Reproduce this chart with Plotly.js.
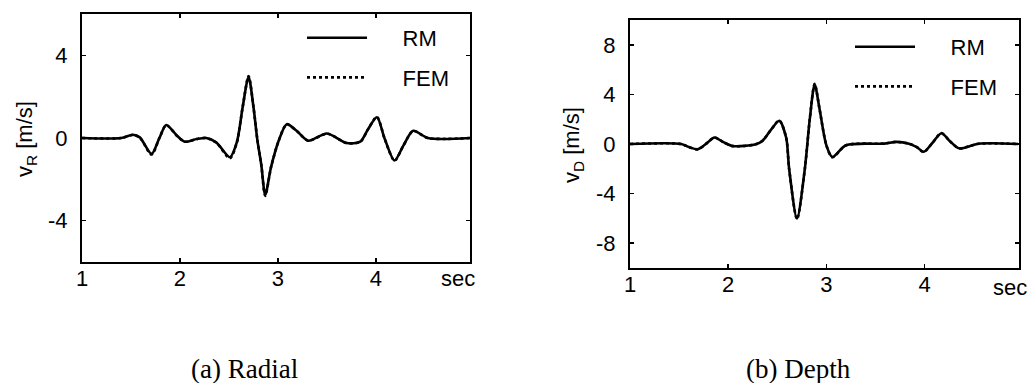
<!DOCTYPE html>
<html>
<head>
<meta charset="utf-8">
<script src="https://cdn.plot.ly/plotly-3.0.1.min.js"></script>
<style>
html,body{margin:0;padding:0;background:#fff;}
#chart{width:1034px;height:383px;}
</style>
</head>
<body>
<div id="chart"></div>
<script>
// ---- Data ----
// (a) Radial velocity
var radialTime = [1.0,1.40,1.52,1.59,1.71,1.79,1.86,1.97,2.05,2.17,2.27,2.37,2.51,2.58,2.64,2.70,2.75,2.79,2.83,2.87,2.93,3.01,3.09,3.19,3.31,3.50,3.70,3.84,3.92,4.01,4.09,4.19,4.28,4.38,4.53,4.96];
var radialRM   = [0,0,0.16,0.03,-0.77,0.0,0.63,0.11,-0.18,-0.05,0,-0.21,-0.93,-0.21,1.5,2.95,1.5,-0.1,-1.3,-2.75,-1.4,-0.1,0.67,0.35,-0.13,0.22,-0.24,-0.18,0.43,1.0,-0.05,-1.09,-0.37,0.35,0,0];
var radialFEM  = [0,0,0.15,0.02,-0.80,0.0,0.62,0.10,-0.18,-0.05,0,-0.22,-0.98,-0.22,1.5,3.0,1.5,-0.1,-1.3,-2.8,-1.4,-0.1,0.66,0.35,-0.13,0.21,-0.24,-0.19,0.43,1.02,-0.05,-1.10,-0.37,0.34,0,0];
// (b) Depth velocity
var depthTime = [1.0,1.52,1.60,1.69,1.78,1.86,1.95,2.05,2.28,2.35,2.44,2.52,2.59,2.62,2.70,2.78,2.83,2.88,2.93,3.00,3.06,3.20,3.59,3.71,3.84,3.92,3.99,4.08,4.17,4.26,4.35,4.55,4.95];
var depthRM   = [0,0,-0.25,-0.42,0.05,0.53,0.15,-0.17,-0.02,0.27,1.2,1.87,0.5,-2.0,-6.0,-2.0,2.0,4.8,2.8,-0.13,-1.05,-0.1,0.03,0.17,0.03,-0.25,-0.63,0.1,0.87,0.2,-0.35,0.02,0];
var depthFEM  = [0,0,-0.25,-0.44,0.05,0.52,0.15,-0.17,-0.02,0.27,1.2,1.9,0.5,-2.0,-6.05,-2.0,2.0,4.85,2.8,-0.13,-1.07,-0.1,0.03,0.17,0.03,-0.25,-0.65,0.1,0.88,0.2,-0.35,0.02,0];

var xTicks = [1,2,3,4];
var radialYTicks = [-4,0,4];
var depthYTicks = [-8,-4,0,4,8];
var seriesNames = ['RM','FEM'];
var panelCaptions = ['(a) Radial','(b) Depth'];
var yTitles = ['v<sub>R</sub> [m/s]','v<sub>D</sub> [m/s]'];
var xUnit = 'sec';

// ---- Styling ----
var W = 1034, H = 383;
var SANS = "'Liberation Sans', Arial, Helvetica, sans-serif";
var SERIF = "'Liberation Serif', 'Times New Roman', serif";
function f(size){ return {family:SANS, size:size, color:'#000'}; }
var pad = '\u00a0\u00a0\u00a0\u00a0\u00a0';

function mkLine(x, y, name, dash, xa, ya, leg, grp){
  return {x:x, y:y, name:pad + name, type:'scatter', mode:'lines',
    line:{color:'#000', width:2.6, dash:dash, shape:'spline', smoothing:0.8},
    xaxis:xa, yaxis:ya, legend:leg, legendgroup:grp, showlegend:true, hoverinfo:'skip'};
}

var traces = [
  mkLine(radialTime, radialRM, seriesNames[0], 'solid', 'x', 'y', 'legend', 'a1'),
  mkLine(radialTime, radialFEM, seriesNames[1], 'dot', 'x', 'y', 'legend', 'a2'),
  mkLine(depthTime, depthRM, seriesNames[0], 'solid', 'x2', 'y2', 'legend2', 'b1'),
  mkLine(depthTime, depthFEM, seriesNames[1], 'dot', 'x2', 'y2', 'legend2', 'b2')
];

function xAxis(domain, anchor){
  return {domain:domain, anchor:anchor, range:[1,4.96], tickvals:xTicks, ticktext:xTicks.map(String),
    showgrid:false, zeroline:false, showline:true, linecolor:'#000', linewidth:2, mirror:'ticks',
    ticks:'inside', ticklen:4, tickwidth:1.5, tickcolor:'#000', tickfont:f(22), ticklabelstandoff:-4, automargin:false, fixedrange:true};
}
function yAxis(domain, anchor, range, tv){
  return {domain:domain, anchor:anchor, range:range, tickvals:tv, ticktext:tv.map(String),
    showgrid:false, zeroline:false, showline:true, linecolor:'#000', linewidth:2, mirror:'ticks',
    ticks:'inside', ticklen:4, tickwidth:1.5, tickcolor:'#000', tickfont:f(22), ticklabelstandoff:8, automargin:false, fixedrange:true};
}

var legendBase = {bgcolor:'rgba(0,0,0,0)', borderwidth:0, font:f(22), itemwidth:60,
  traceorder:'grouped', tracegroupgap:8, xanchor:'left', yanchor:'top', itemclick:false, itemdoubleclick:false};

var layout = {
  width:W, height:H, margin:{l:0, r:0, t:0, b:0},
  paper_bgcolor:'#fff', plot_bgcolor:'#fff', font:f(22),
  xaxis: xAxis([82/W, 470/W], 'y'),
  yaxis: yAxis([(H-262)/H, (H-14)/H], 'x', [-6,6], radialYTicks),
  xaxis2: xAxis([630/W, 1019/W], 'y2'),
  yaxis2: yAxis([(H-268)/H, (H-20)/H], 'x2', [-10,10], depthYTicks),
  legend: Object.assign({}, legendBase, {x:302/W, y:1-17/H}),
  legend2: Object.assign({}, legendBase, {x:850/W, y:1-26/H}),
  annotations: [
    {text:yTitles[0], xref:'paper', yref:'paper', x:26/W, y:(H-139)/H, textangle:-90, showarrow:false, font:f(22), xanchor:'center', yanchor:'middle'},
    {text:yTitles[1], xref:'paper', yref:'paper', x:573/W, y:(H-145)/H, textangle:-90, showarrow:false, font:f(22), xanchor:'center', yanchor:'middle'},
    {text:xUnit, xref:'paper', yref:'paper', x:458/W, y:(H-278)/H, showarrow:false, font:f(22), xanchor:'center', yanchor:'middle'},
    {text:xUnit, xref:'paper', yref:'paper', x:1010/W, y:(H-287)/H, showarrow:false, font:f(22), xanchor:'center', yanchor:'middle'},
    {text:panelCaptions[0], xref:'paper', yref:'paper', x:245/W, y:(H-369)/H, showarrow:false,
      font:{family:SERIF, size:27, color:'#000'}, xanchor:'center', yanchor:'middle'},
    {text:panelCaptions[1], xref:'paper', yref:'paper', x:798/W, y:(H-369)/H, showarrow:false,
      font:{family:SERIF, size:27, color:'#000'}, xanchor:'center', yanchor:'middle'}
  ]
};

Plotly.newPlot('chart', traces, layout, {staticPlot:true, displayModeBar:false});
</script>
</body>
</html>
